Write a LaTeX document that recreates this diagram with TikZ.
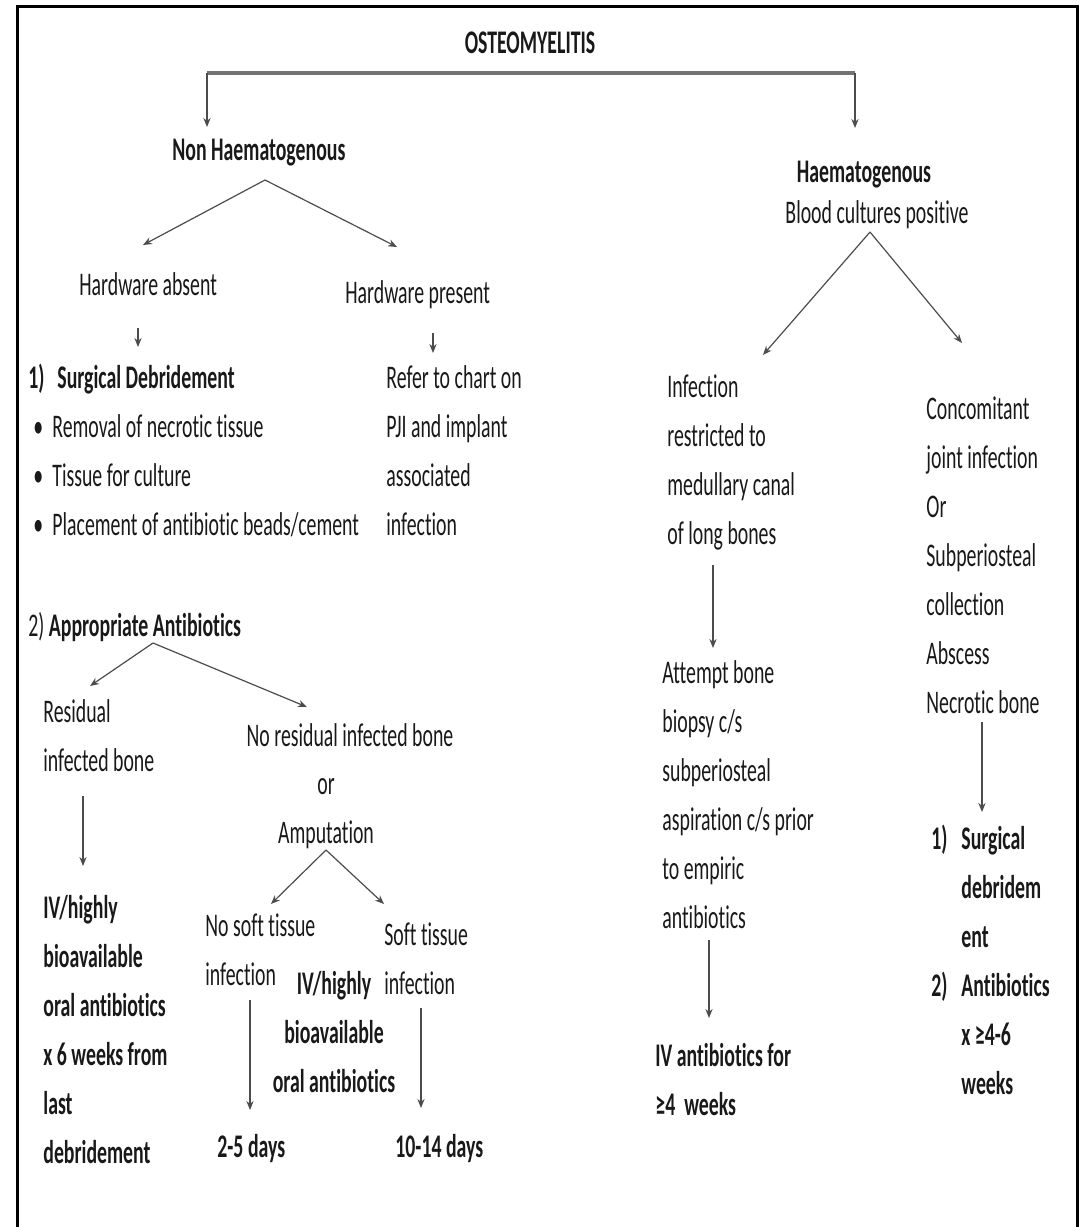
\documentclass[tikz,border=0pt]{standalone}
\usepackage{fontspec}
\setmainfont{Carlito}[FakeStretch=0.6, Ligatures=NoCommon]
\usetikzlibrary{arrows.meta, positioning, calc}
\tikzset{
    txt/.style={
        inner sep=0pt, anchor=base west, align=left, text=black!90,
        font=\fontsize{16.5pt}{24.5pt}\selectfont,
    },
    txtbold/.style={
        txt, font=\fontsize{16.5pt}{24.5pt}\selectfont\bfseries,
    },
    flow/.style={-{Stealth[length=4.5pt, width=3.6pt]}, line width=0.6pt, draw=black!70},
    bar/.style={line width=2pt, draw=black!55},
    frame/.style={line width=1.5pt, draw=black},
}

\begin{document}
\begin{tikzpicture}[x=0.5pt, y=-0.5pt]
    \useasboundingbox (0,0) rectangle (1081,1227);
    \draw[frame] (17,1227) -- (17,6) -- (1077,6) -- (1077,1227);

    % top split (multi-line nodes sit on the baseline of their last line)
    \node[txtbold, anchor=base] (osteo) at (530,53) {OSTEOMYELITIS};
    \node[txtbold] (nonh) at (172,160) {Non Haematogenous};
    \node[txtbold, anchor=base] (haem) at (864,182) {Haematogenous};
    \node[txt, anchor=base] (haemsub) at (877,223) {Blood cultures positive};

    \coordinate (splitL) at (207,73);
    \coordinate (splitR) at (855,73);
    \coordinate (nonhIn) at (207,127);
    \coordinate (haemIn) at (855,128);
    \draw[bar] (splitL) -- (splitR);
    \draw[flow] (splitL) -- (nonhIn);
    \draw[flow] (splitR) -- (haemIn);

    % non haematogenous branch
    \node[txt] (hwabs) at (79,295) {Hardware absent};
    \node[txt] (hwpres) at (345,303) {Hardware present};
    \node[txt] (surg) at (28,535)
        {\makebox[14.5pt][l]{\bfseries 1)}\textbf{Surgical Debridement}\\
         \hspace*{2.5pt}\makebox[9.5pt][l]{\textbullet}Removal of necrotic tissue\\
         \hspace*{2.5pt}\makebox[9.5pt][l]{\textbullet}Tissue for culture\\
         \hspace*{2.5pt}\makebox[9.5pt][l]{\textbullet}Placement of antibiotic beads/cement};
    \node[txt] (refer) at (386,535)
        {Refer to chart on\\PJI and implant\\associated\\infection};

    \coordinate (nonhOut) at (265,180);
    \coordinate (hwabsIn) at (143,245);
    \coordinate (hwpresIn) at (397,247);
    \draw[flow] (nonhOut) -- (hwabsIn);
    \draw[flow] (nonhOut) -- (hwpresIn);
    \draw[flow] (138,328) coordinate (hwabsOut) -- (138,347) coordinate (surgIn);
    \draw[flow] (433,333) coordinate (hwpresOut) -- (433,353) coordinate (referIn);

    % antibiotics
    \node[txt] (approp) at (28,636) {2) \textbf{Appropriate Antibiotics}};
    \node[txt] (resid) at (43,771) {Residual\\infected bone};
    \node[txt, anchor=base] (nores) at (350,746) {No residual infected bone};
    \node[txt, anchor=base, align=center] (amput) at (326,843) {or\\Amputation};
    \node[txtbold] (ivres) at (43,1163)
        {IV/highly\\bioavailable\\oral antibiotics\\x 6 weeks from\\last\\debridement};

    \coordinate (appropOut) at (153,643);
    \coordinate (residIn) at (90,686);
    \coordinate (noresIn) at (307,707);
    \draw[flow] (appropOut) -- (residIn);
    \draw[flow] (appropOut) -- (noresIn);
    \draw[flow] (83,796) coordinate (residOut) -- (83,866) coordinate (ivresIn);

    \node[txt] (nosoft) at (205,985) {No soft tissue\\infection};
    \node[txtbold, anchor=base, align=center] (ivmid) at (334,1092)
        {IV/highly\\bioavailable\\oral antibiotics};
    \node[txt] (soft) at (384,994) {Soft tissue\\infection};
    \node[txtbold] (dshort) at (217,1157) {2-5 days};
    \node[txtbold] (dlong) at (395,1157) {10-14 days};

    \coordinate (amputOut) at (326,850);
    \coordinate (nosoftIn) at (271,904);
    \coordinate (softIn) at (384,904);
    \draw[flow] (amputOut) -- (nosoftIn);
    \draw[flow] (amputOut) -- (softIn);
    \draw[flow] (250,1000) coordinate (nosoftOut) -- (250,1110) coordinate (dshortIn);
    \draw[flow] (421,1008) coordinate (softOut) -- (421,1108) coordinate (dlongIn);

    % haematogenous branch
    \node[txt] (medul) at (667,544)
        {Infection\\restricted to\\medullary canal\\of long bones};
    \node[txt] (concom) at (926,713)
        {Concomitant\\joint infection\\Or\\Subperiosteal\\collection\\Abscess\\Necrotic bone};
    \node[txt] (biopsy) at (662,928)
        {Attempt bone\\biopsy c/s\\subperiosteal\\aspiration c/s prior\\to empiric\\antibiotics};
    \node[txtbold] (ivweeks) at (655,1115) {IV antibiotics for\\≥4\ \ weeks};
    \node[txtbold] (surgR) at (931,1094)
        {\makebox[15pt][l]{1)}Surgical\\
         \hspace*{15pt}debridem\\
         \hspace*{15pt}ent\\
         \makebox[15pt][l]{2)}Antibiotics\\
         \hspace*{15pt}x ≥4-6\\
         \hspace*{15pt}weeks};

    \coordinate (haemOut) at (870,232);
    \coordinate (medulIn) at (763,355);
    \coordinate (concomIn) at (962,343);
    \draw[flow] (haemOut) -- (medulIn);
    \draw[flow] (haemOut) -- (concomIn);
    \draw[flow] (713,565) coordinate (medulOut) -- (713,648) coordinate (biopsyIn);
    \draw[flow] (709,940) coordinate (biopsyOut) -- (709,1018) coordinate (ivweeksIn);
    \draw[flow] (982,722) coordinate (concomOut) -- (982,812) coordinate (surgRIn);
\end{tikzpicture}
\end{document}
